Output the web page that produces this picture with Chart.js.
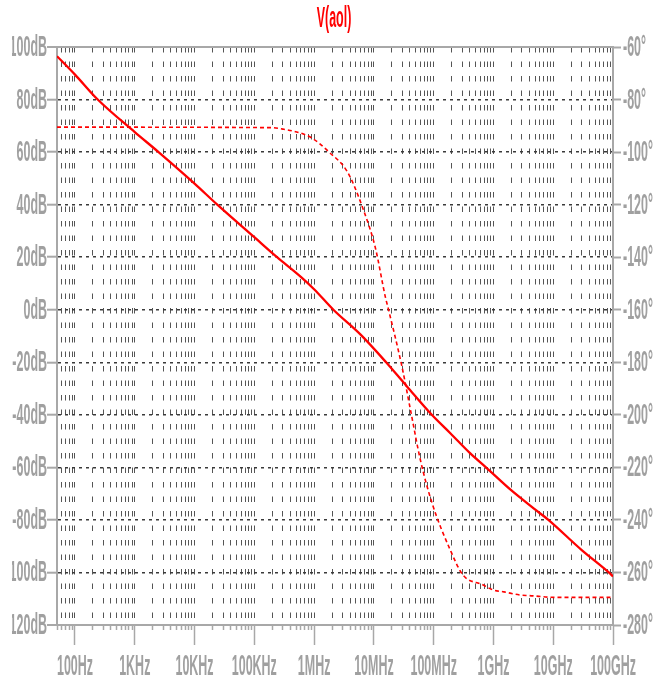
<!DOCTYPE html>
<html>
<head>
<meta charset="utf-8">
<script src="https://cdn.jsdelivr.net/npm/chart.js@4.4.1/dist/chart.umd.min.js"></script>
<style>
  html, body { margin: 0; padding: 0; background: #ffffff; }
  canvas { display: block; }
</style>
</head>
<body>
<canvas id="bode" width="656" height="684"></canvas>
<script>
// ---- frequency axis ----
const F_MIN = 50;
const F_MAX = 1e11;
const FREQ_DECADES = [1e2, 1e3, 1e4, 1e5, 1e6, 1e7, 1e8, 1e9, 1e10, 1e11];
const FREQ_LABELS = ['100Hz', '1KHz', '10KHz', '100KHz', '1MHz', '10MHz', '100MHz', '1GHz', '10GHz', '100GHz'];

// ---- vertical axes ----
const DB_TICKS = [100, 80, 60, 40, 20, 0, -20, -40, -60, -80, -100, -120];
const DEG_TICKS = [-60, -80, -100, -120, -140, -160, -180, -200, -220, -240, -260, -280];

// ---- |V(aol)| in dB ----
const MAG_FREQ = [50, 100, 240, 1e3, 2.5e3, 1e4, 2.4e4, 1e5, 2.4e5, 6e5, 1e6, 2.1e6, 6e6, 1.6e7, 3.6e7, 9.3e7, 1.9e8, 4.1e8, 7.5e8, 2e9, 4.7e9, 8.3e9, 3e10, 8.5e10, 1e11];
const MAG_DB = [96.5, 89.5, 80, 67.6, 60, 48, 40, 27.6, 20, 12.5, 7.8, 0, -9.5, -20, -29.3, -40, -47, -54.7, -60, -68.8, -75.6, -80, -91.5, -100, -101.5];

// ---- phase of V(aol) in degrees ----
const PHASE_FREQ = [50, 1.9e5, 3.1e5, 6e5, 9.3e5, 1.76e6, 3.6e6, 6.4e6, 1.06e7, 1.55e7, 1.76e7, 2.95e7, 4.1e7, 6e7, 9.4e7, 1.9e8, 3.1e8, 6.5e8, 1e9, 1.5e9, 2.8e9, 4e9, 1.1e10, 1e11];
const PHASE_DEG = [-90.5, -90.7, -91.3, -92.8, -94.7, -99.9, -107.5, -120.8, -136.5, -155, -160, -181.7, -198.2, -217.2, -233.6, -251.5, -261, -264.6, -266.7, -267.4, -268.6, -268.8, -269.5, -269.5];

// log grid: 1..9 x 10^k inside the plotted range
const X_GRID = [];
for (let k = 1; k <= 11; k++) {
  for (let m = 1; m <= 9; m++) {
    const v = m * Math.pow(10, k);
    if (v >= F_MIN && v <= F_MAX) X_GRID.push(v);
  }
}

const FONT = "'Liberation Sans', Arial, sans-serif";
const LABEL_GRAY = '#a0a0a0';
const FRAME = '#a8a8a8';
const GRID_V = '#555555';
const GRID_H = '#3a3a3a';
const RED = '#ff0000';

const canvas = document.getElementById('bode');
const ctx = canvas.getContext('2d');

// narrow, tall lettering: every text run is squeezed horizontally about its anchor
const SQUEEZE = 0.43;
const plainFillText = ctx.fillText;
ctx.fillText = function (text, x, y) {
  this.save();
  this.translate(x, y);
  this.scale(SQUEEZE, 1);
  plainFillText.call(this, text, 0, 0);
  this.restore();
};

const isDecade = v => FREQ_DECADES.indexOf(v) >= 0;
const isEdgeDb = v => v === DB_TICKS[0] || v === DB_TICKS[DB_TICKS.length - 1];

const pts = (xs, ys) => xs.map((x, i) => ({ x: x, y: ys[i] }));

new Chart(canvas, {
  type: 'line',
  data: {
    datasets: [
      {
        label: 'magnitude',
        data: pts(MAG_FREQ, MAG_DB),
        yAxisID: 'y',
        borderColor: RED,
        borderWidth: 2.3,
        pointRadius: 0,
        fill: false,
        cubicInterpolationMode: 'monotone'
      },
      {
        label: 'phase',
        data: pts(PHASE_FREQ, PHASE_DEG),
        yAxisID: 'y2',
        borderColor: RED,
        borderWidth: 1.6,
        borderDash: [4, 3],
        pointRadius: 0,
        fill: false,
        cubicInterpolationMode: 'monotone'
      }
    ]
  },
  options: {
    responsive: false,
    animation: false,
    devicePixelRatio: 1,
    events: [],
    layout: { padding: { left: 12, right: 0, top: 0, bottom: 0 } },
    plugins: {
      legend: { display: false },
      tooltip: { enabled: false },
      title: {
        display: true,
        text: 'V(aol)',
        color: RED,
        font: { family: FONT, size: 29, weight: 'bold' },
        padding: { top: 2, bottom: 10.2 }
      }
    },
    scales: {
      x: {
        type: 'logarithmic',
        position: 'bottom',
        min: F_MIN,
        max: F_MAX,
        afterBuildTicks: s => { s.ticks = X_GRID.map(v => ({ value: v })); },
        afterFit: s => { s.height = 59; s.paddingLeft = 0; s.paddingRight = 0; },
        ticks: {
          autoSkip: false,
          maxRotation: 0,
          minRotation: 0,
          padding: 5,
          color: LABEL_GRAY,
          font: { family: FONT, size: 29, weight: 'bold' },
          callback: v => { const i = FREQ_DECADES.indexOf(v); return i >= 0 ? FREQ_LABELS[i] : ''; }
        },
        grid: {
          color: c => (c.tick && (c.tick.value === F_MIN || c.tick.value === F_MAX)) ? 'rgba(0,0,0,0)' : GRID_V,
          lineWidth: 1,
          tickLength: 20,
          tickColor: FRAME,
          tickWidth: 1.5,
          tickBorderDash: c => (c.tick && isDecade(c.tick.value)) ? [] : [4, 100]
        },
        border: { display: true, color: FRAME, width: 2, dash: [5.5, 9] }
      },
      y: {
        type: 'linear',
        position: 'left',
        min: -120,
        max: 100,
        afterBuildTicks: s => { s.ticks = DB_TICKS.map(v => ({ value: v })); },
        afterFit: s => { s.width = 45; },
        ticks: {
          padding: 0,
          color: LABEL_GRAY,
          font: { family: FONT, size: 29, weight: 'bold' },
          labelOffset: 1,
          callback: v => v + 'dB'
        },
        grid: {
          color: c => (c.tick && isEdgeDb(c.tick.value)) ? FRAME : GRID_H,
          lineWidth: c => (c.tick && isEdgeDb(c.tick.value)) ? 2 : 1.4,
          tickLength: 10,
          tickColor: FRAME,
          tickWidth: 2
        },
        border: {
          display: true,
          color: FRAME,
          width: 2,
          dash: c => (c.tick && isEdgeDb(c.tick.value)) ? [] : [3, 4]
        }
      },
      y2: {
        type: 'linear',
        position: 'right',
        min: -280,
        max: -60,
        afterBuildTicks: s => { s.ticks = DEG_TICKS.map(v => ({ value: v })); },
        afterFit: s => { s.width = 43; },
        ticks: {
          padding: 2,
          color: LABEL_GRAY,
          font: { family: FONT, size: 29, weight: 'bold' },
          labelOffset: 1,
          callback: v => v + '°'
        },
        grid: {
          drawOnChartArea: false,
          tickLength: 8,
          tickColor: FRAME,
          tickWidth: 2
        },
        border: { display: true, color: FRAME, width: 2 }
      }
    }
  }
});
</script>
</body>
</html>
